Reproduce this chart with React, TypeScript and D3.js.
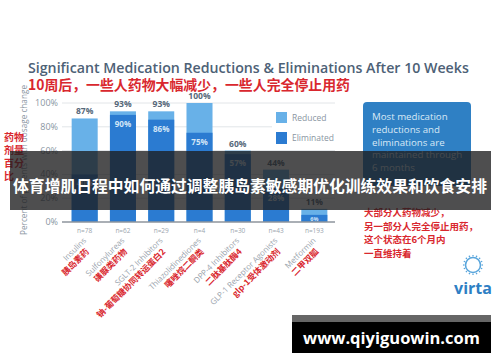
import * as d3 from 'd3';

const categories = ['Insulins', 'Sulfonylureas', 'SGLT-2 Inhibitors', 'Thiazolidinediones', 'DPP-4 Inhibitors', 'GLP-1 Receptor Agonists', 'Metformin'];
const categoriesZh = ['胰岛素药', '磺脲类药物', '钠-葡萄糖协同转运蛋白2', '噻唑烷二酮类', '二肽基肽酶4', 'glp-1受体激动剂', '二甲双胍'];
const sampleSizes = ['n=78', 'n=62', 'n=29', 'n=4', 'n=30', 'n=43', 'n=193'];
const reducedTotal = [87, 93, 93, 100, 60, 44, 11];
const eliminated = [40, 90, 86, 75, 57, 28, 6];
const yTicks = [0, 20, 40, 60, 80, 100];
const calloutLines = ['Most medication', 'reductions and', 'eliminations are', 'maintained through', '6 months'];
const calloutZh = ['大部分人药物减少，', '另一部分人完全停止用药，', '这个状态在6个月内', '一直维持着'];
const yTitleZh = ['药物', '剂量', '百分', '比'];

const C_REDUCED = '#68b1e8';
const C_ELIM = '#2b7bd1';
const C_RED = '#d9272e';
const C_TITLE = '#4d6176';
const C_GRAY = '#8a96a2';

export default function App() {
  const width = 500;
  const height = 362;

  const x = d3.scaleBand<string>().domain(categories).range([64, 335]).paddingInner(0.32).paddingOuter(0.2);
  const y = d3.scaleLinear().domain([0, 100]).range([222, 103]);
  const bw = x.bandwidth();

  // small gear-like ring for the logo
  const ringDots = d3.range(16).map((i) => (i / 16) * Math.PI * 2);

  return (
    <svg
      width={width}
      height={height}
      style={{ position: 'absolute', left: 0, top: 0, background: '#fff' }}
      fontFamily="'Open Sans', 'Noto Sans', sans-serif"
    >
      <rect width={width} height={height} fill="#fff" />

      {/* titles */}
      <text x={28} y={73} fontSize={14.2} fontWeight={600} fill={C_TITLE}>
        Significant Medication Reductions &amp; Eliminations After 10 Weeks
      </text>
      <text x={28} y={90} fontSize={13.9} fontWeight={700} fill={C_RED} fontFamily="'Noto Sans CJK SC', sans-serif">
        10周后，一些人药物大幅减少，一些人完全停止用药
      </text>

      {/* grid + y ticks */}
      {yTicks.map((t) => (
        <g key={t}>
          {t > 0 && <line x1={62} x2={335} y1={y(t)} y2={y(t)} stroke="#e2e5e8" strokeWidth={1} />}
          <text x={58} y={y(t) + 3} fontSize={9} fill={C_GRAY} textAnchor="end">
            {t}%
          </text>
        </g>
      ))}

      {/* y axis title */}
      <text
        transform={`translate(27,160) rotate(-90)`}
        fontSize={8.2}
        fill={C_GRAY}
        textAnchor="middle"
      >
        Percent of patients with dosage change
      </text>
      {yTitleZh.map((s, i) => (
        <text key={s} x={4} y={141 + i * 13} fontSize={10} fontWeight={700} fill={C_RED} fontFamily="'Noto Sans CJK SC', sans-serif">
          {s}
        </text>
      ))}

      {/* bars */}
      {categories.map((c, i) => {
        const x0 = x(c)!;
        return (
          <g key={c}>
            <rect x={x0} y={y(reducedTotal[i])} width={bw} height={y(0) - y(reducedTotal[i])} fill={C_REDUCED} />
            <rect x={x0} y={y(eliminated[i])} width={bw} height={y(0) - y(eliminated[i])} fill={C_ELIM} />
            <text x={x0 + bw / 2} y={y(reducedTotal[i]) - 4} fontSize={8.5} fontWeight={700} fill="#56687a" textAnchor="middle">
              {reducedTotal[i]}%
            </text>
            <text
              x={x0 + bw / 2}
              y={y(eliminated[i]) + (eliminated[i] < 10 ? 6 : 12)}
              fontSize={eliminated[i] < 10 ? 5.5 : 8}
              fontWeight={700}
              fill="#d3e6f7"
              textAnchor="middle"
            >
              {eliminated[i]}%
            </text>
            <text x={x0 + bw / 2} y={233} fontSize={6.5} fill="#9aa4ad" textAnchor="middle">
              {sampleSizes[i]}
            </text>
            <g transform={`translate(${x0 + bw / 2 + 2},241) rotate(-45)`}>
              <text x={0} y={0} fontSize={8} fill="#9aa4ad" textAnchor="end">
                {c}
              </text>
              <text x={-6} y={10} fontSize={8.5} fontWeight={700} fill={C_RED} textAnchor="end" fontFamily="'Noto Sans CJK SC', sans-serif">
                {categoriesZh[i]}
              </text>
            </g>
          </g>
        );
      })}

      {/* baseline */}
      <line x1={62} x2={335} y1={y(0)} y2={y(0)} stroke="#8e959c" strokeWidth={1.5} />

      {/* legend */}
      <rect x={272} y={108} width={64} height={40} fill="#fff" />
      <rect x={276} y={112} width={11} height={11} fill={C_REDUCED} />
      <text x={292} y={121} fontSize={8.5} fill={C_GRAY}>
        Reduced
      </text>
      <rect x={276} y={132} width={11} height={12} fill={C_ELIM} />
      <text x={292} y={141} fontSize={8.5} fill={C_GRAY}>
        Eliminated
      </text>

      {/* callout */}
      <rect x={363} y={102} width={108} height={84} rx={4} fill="#2f80c4" />
      {calloutLines.map((s, i) => (
        <text key={s} x={372} y={120 + i * 12.8} fontSize={9.7} fill="#d9e9f6">
          {s}
        </text>
      ))}
      {calloutZh.map((s, i) => (
        <text key={s} x={364} y={216 + i * 13.5} fontSize={9.5} fontWeight={700} fill={C_RED} fontFamily="'Noto Sans CJK SC', sans-serif">
          {s}
        </text>
      ))}

      {/* logo */}
      <g transform="translate(473,265)">
        <circle r={7.5} fill="none" stroke="#5aa6dc" strokeWidth={1.6} />
        {ringDots.map((a, i) => (
          <circle key={i} cx={Math.cos(a) * 9.3} cy={Math.sin(a) * 9.3} r={0.8} fill="#5aa6dc" />
        ))}
      </g>
      <text x={473} y={294} fontSize={16} fontWeight={700} fill="#2e7fc4" textAnchor="middle">
        virta
      </text>

      {/* overlay banner */}
      <rect x={10} y={151} width={481} height={59} fill="rgba(28,28,30,0.78)" />
      <text
        x={250}
        y={192}
        fontSize={15.8}
        fontWeight={700}
        fill="#fff"
        textAnchor="middle"
        fontFamily="'Noto Sans CJK SC', sans-serif"
      >
        体育增肌日程中如何通过调整胰岛素敏感期优化训练效果和饮食安排
      </text>

      {/* watermark */}
      <rect x={292} y={315} width={199} height={8} fill="#666" />
      <rect x={292} y={322} width={199} height={31} fill="#000" />
      <text x={391.5} y={344} fontSize={16.5} fontWeight={700} fill="#fff" textAnchor="middle" fontFamily="'Open Sans', sans-serif">
        www.qiyiguowin.com
      </text>
    </svg>
  );
}
